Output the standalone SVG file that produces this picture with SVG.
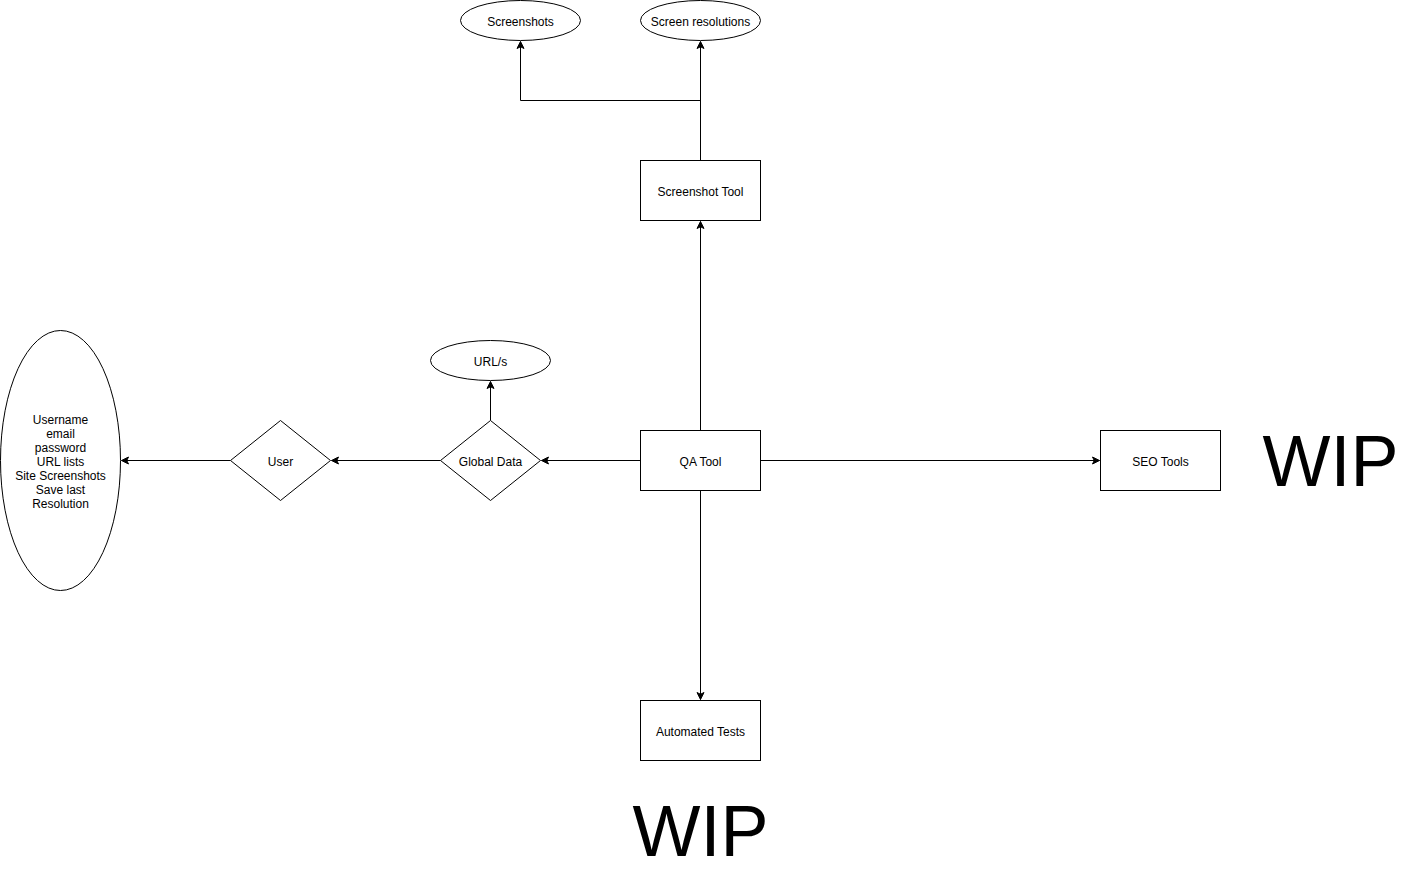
<svg xmlns="http://www.w3.org/2000/svg" width="1411" height="874" viewBox="0 0 1411 874">
<style>
.s{fill:#fff;stroke:#000;stroke-width:1}
.t{font-family:"Liberation Sans",Arial,sans-serif;font-size:12px;fill:#000;text-anchor:middle}
.w{font-family:"Liberation Sans",Arial,sans-serif;font-size:72px;fill:#000;text-anchor:middle}
.c{fill:none;stroke:#000;stroke-width:1}
</style>
<defs>
<marker id="a" markerUnits="userSpaceOnUse" markerWidth="10" markerHeight="10" viewBox="-8 -5 10 10" refX="0" refY="0" orient="auto">
<path d="M0,0 L-7,-3.5 L-5.25,0 L-7,3.5 Z" fill="#000" stroke="#000" stroke-width="1"/>
</marker>
</defs>
<rect width="1411" height="874" fill="#fff"/>
<g transform="translate(0.5,0.5)">
<g id="connectors">
<path class="c" d="M700,430 L700,221" marker-end="url(#a)"/>
<path class="c" d="M700,160 L700,41" marker-end="url(#a)"/>
<path class="c" d="M700,100 L520,100 L520,41" marker-end="url(#a)"/>
<path class="c" d="M640,460 L541,460" marker-end="url(#a)"/>
<path class="c" d="M440,460 L331,460" marker-end="url(#a)"/>
<path class="c" d="M230,460 L121,460" marker-end="url(#a)"/>
<path class="c" d="M490,420 L490,381" marker-end="url(#a)"/>
<path class="c" d="M760,460 L1099,460" marker-end="url(#a)"/>
<path class="c" d="M700,490 L700,699" marker-end="url(#a)"/>
</g>
<g id="screenshots"><ellipse class="s" cx="520" cy="20" rx="60" ry="20"/><text class="t" x="520" y="25">Screenshots</text></g>
<g id="screen-resolutions"><ellipse class="s" cx="700" cy="20" rx="60" ry="20"/><text class="t" x="700" y="25">Screen resolutions</text></g>
<g id="screenshot-tool"><rect class="s" x="640" y="160" width="120" height="60"/><text class="t" x="700" y="195">Screenshot Tool</text></g>
<g id="qa-tool"><rect class="s" x="640" y="430" width="120" height="60"/><text class="t" x="700" y="465">QA Tool</text></g>
<g id="seo-tools"><rect class="s" x="1100" y="430" width="120" height="60"/><text class="t" x="1160" y="465">SEO Tools</text></g>
<g id="automated-tests"><rect class="s" x="640" y="700" width="120" height="60"/><text class="t" x="700" y="735">Automated Tests</text></g>
<g id="urls"><ellipse class="s" cx="490" cy="360" rx="60" ry="20"/><text class="t" x="490" y="365">URL/s</text></g>
<g id="global-data"><path class="s" d="M490,420 L540,460 L490,500 L440,460 Z"/><text class="t" x="490" y="465">Global Data</text></g>
<g id="user"><path class="s" d="M280,420 L330,460 L280,500 L230,460 Z"/><text class="t" x="280" y="465">User</text></g>
<g id="user-data"><ellipse class="s" cx="60" cy="460" rx="60" ry="130"/>
<text class="t" x="60" y="423">Username</text>
<text class="t" x="60" y="437">email</text>
<text class="t" x="60" y="451">password</text>
<text class="t" x="60" y="465">URL lists</text>
<text class="t" x="60" y="479">Site Screenshots</text>
<text class="t" x="60" y="493">Save last</text>
<text class="t" x="60" y="507">Resolution</text>
</g>
<g id="wip-right"><text class="w" x="1330" y="485">WIP</text></g>
<g id="wip-bottom"><text class="w" x="700" y="855">WIP</text></g>
</g>
</svg>
